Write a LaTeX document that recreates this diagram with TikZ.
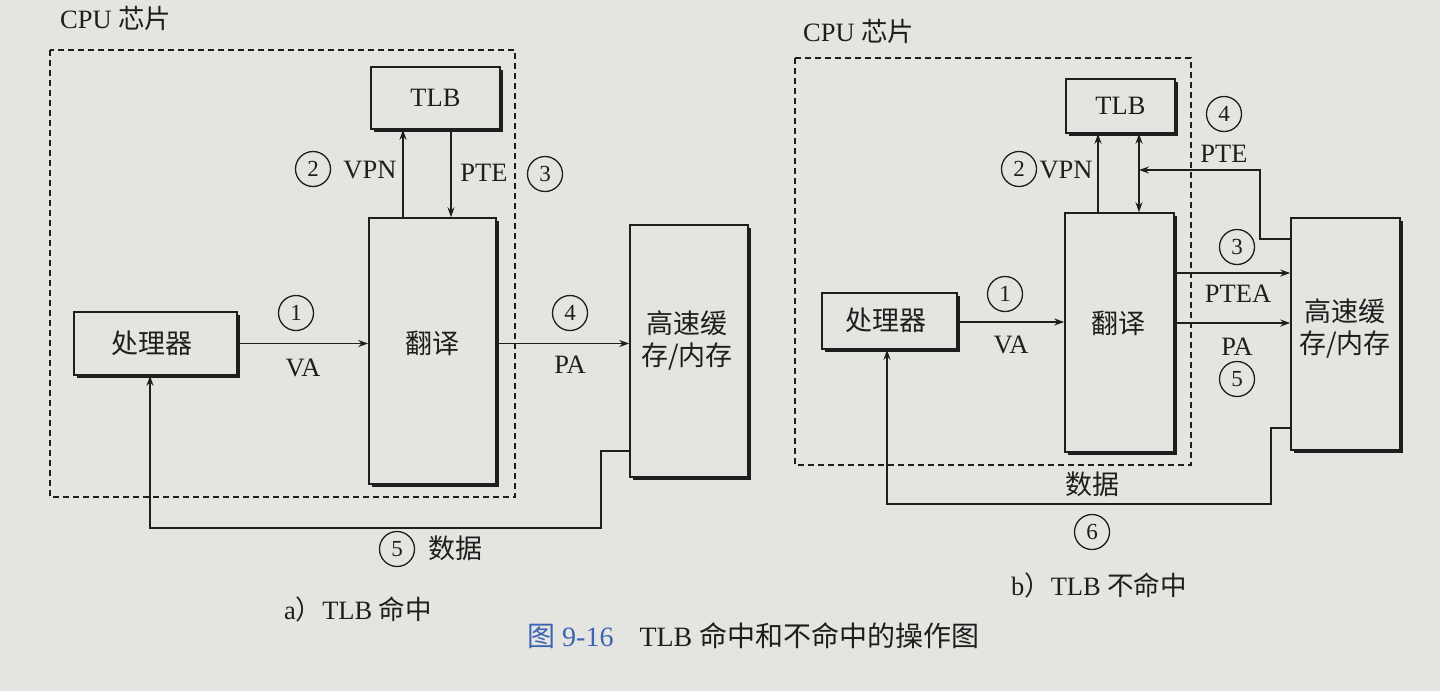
\documentclass[tikz,border=0pt]{standalone}
\usepackage{fontspec}
\setmainfont{Liberation Serif}
\newfontfamily\cjk{Noto Sans CJK SC}
\usetikzlibrary{arrows.meta,shadows}
\definecolor{paper}{HTML}{E4E4E0}
\definecolor{ink}{HTML}{1E1E1E}
\definecolor{capblue}{HTML}{3C64B4}
\tikzset{
  box/.style={draw=ink, line width=1.6pt, fill=paper, inner sep=0pt,
    drop shadow={shadow xshift=2.5pt, shadow yshift=-2.5pt, fill=ink, opacity=1}},
  chip/.style={draw=ink, line width=1.4pt, dash pattern=on 6pt off 4pt},
  conn/.style={draw=ink, line width=1.6pt},
  arr/.style={conn, -{Stealth[length=10pt,width=7pt]}},
  txt/.style={text=ink, inner sep=0pt, font=\fontsize{26.5}{30}\selectfont},
  ctxt/.style={text=ink, inner sep=0pt, font=\cjk\fontsize{27}{32}\selectfont, align=center},
  circ/.style={circle, draw=ink, line width=1.3pt, minimum size=35pt, inner sep=0pt,
    text=ink, font=\fontsize{23}{23}\selectfont},
}
\begin{document}
\begin{tikzpicture}[x=1pt,y=-1pt]
\fill[paper] (0,0) rectangle (1440,691);
\useasboundingbox (0,0) rectangle (1440,691);

% ================= (a) TLB hit =================
\node[txt, anchor=west] (cpuA) at (60,18) {CPU {\cjk 芯片}};
\draw[chip] (50,50) rectangle (515,497);

\node[box, minimum width=129pt, minimum height=62pt] (tlbA) at (435.5,98) {};
\node[txt] (tlbAt) at (435.5,98) {TLB};
\node[box, minimum width=127pt, minimum height=266pt] (transA) at (432.5,351) {};
\node[ctxt] (transAt) at (432,343) {翻译};
\node[box, minimum width=163pt, minimum height=63pt] (procA) at (155.5,343.5) {};
\node[ctxt] (procAt) at (152,343) {处理器};
\node[box, minimum width=118pt, minimum height=252pt] (cacheA) at (689,351) {};
\node[ctxt] (cacheAt) at (687,341) {高速缓\\存/内存};

\draw[arr] (procA.east) -- (procA.east -| transA.west);
\draw[arr] (transA.east |- procA.east) -- (procA.east -| cacheA.west);
\draw[arr] (transA.north -| 403,0) -- (tlbA.south -| 403,0);
\draw[arr] (tlbA.south -| 451,0) -- (transA.north -| 451,0);
\coordinate (dA1) at (601,451);
\coordinate (dA2) at (601,528);
\coordinate (dA3) at (150,528);
\draw[arr] (cacheA.west |- dA1) -- (dA1) -- (dA2) -- (dA3) -- (procA.south -| dA3);

\node[circ] (a1) at (296,313) {1};
\node[txt] (aVA) at (303,368) {VA};
\node[circ] (a4) at (570,313) {4};
\node[txt] (aPA) at (570,365) {PA};
\node[circ] (a2) at (313,169) {2};
\node[txt] (aVPN) at (370,170) {VPN};
\node[txt] (aPTE) at (484,173) {PTE};
\node[circ] (a3) at (545,174) {3};
\node[circ] (a5) at (397,549) {5};
\node[ctxt] (aData) at (455,548) {数据};
\node[txt] (capA) at (358,609) {a{\cjk ）}TLB {\cjk 命中}};

% ================= (b) TLB miss =================
\node[txt, anchor=west] (cpuB) at (803,31) {CPU {\cjk 芯片}};
\draw[chip] (795,58) rectangle (1191,465);

\node[box, minimum width=109pt, minimum height=54pt] (tlbB) at (1120.5,106) {};
\node[txt] (tlbBt) at (1120.5,106) {TLB};
\node[box, minimum width=109pt, minimum height=239pt] (transB) at (1119.5,332.5) {};
\node[ctxt] (transBt) at (1118,323) {翻译};
\node[box, minimum width=135pt, minimum height=56pt] (procB) at (889.5,321) {};
\node[ctxt] (procBt) at (886,320) {处理器};
\node[box, minimum width=109pt, minimum height=232pt] (cacheB) at (1345.5,334) {};
\node[ctxt] (cacheBt) at (1345,329) {高速缓\\存/内存};

\draw[arr] (procB.east |- 0,322) -- (transB.west |- 0,322);
\draw[arr] (transB.east |- 0,273) -- (cacheB.west |- 0,273);
\draw[arr] (transB.east |- 0,323) -- (cacheB.west |- 0,323);
\draw[arr] (transB.north -| 1098,0) -- (tlbB.south -| 1098,0);
\draw[conn, {Stealth[length=10pt,width=7pt]}-{Stealth[length=10pt,width=7pt]}]
  (tlbB.south -| 1139,0) -- (transB.north -| 1139,0);
\coordinate (pB1) at (1260,239);
\coordinate (pB2) at (1260,170);
\coordinate (pB3) at (1139,170);
\draw[arr] (cacheB.west |- pB1) -- (pB1) -- (pB2) -- (pB3);
\coordinate (dB1) at (1271,428);
\coordinate (dB2) at (1271,504);
\coordinate (dB3) at (887,504);
\draw[arr] (cacheB.west |- dB1) -- (dB1) -- (dB2) -- (dB3) -- (procB.south -| dB3);

\node[circ] (b2) at (1019,169) {2};
\node[txt] (bVPN) at (1066,170) {VPN};
\node[circ] (b4) at (1224,114) {4};
\node[txt] (bPTE) at (1224,154) {PTE};
\node[circ] (b3) at (1237,247) {3};
\node[txt] (bPTEA) at (1238,294) {PTEA};
\node[circ] (b1) at (1005,294) {1};
\node[txt] (bVA) at (1011,345) {VA};
\node[txt] (bPA) at (1237,347) {PA};
\node[circ] (b5) at (1237,379) {5};
\node[ctxt] (bData) at (1092,484) {数据};
\node[circ] (b6) at (1092,532) {6};
\node[txt] (capB) at (1099,585) {b{\cjk ）}TLB {\cjk 不命中}};

% ================= figure caption =================
\node[text=ink, inner sep=0pt, font=\fontsize{28}{32}\selectfont, anchor=west] (figcap) at (527,636)
  {{\color{capblue}{\cjk 图} 9-16}\hspace{26pt}TLB {\cjk 命中和不命中的操作图}};
\end{tikzpicture}
\end{document}
